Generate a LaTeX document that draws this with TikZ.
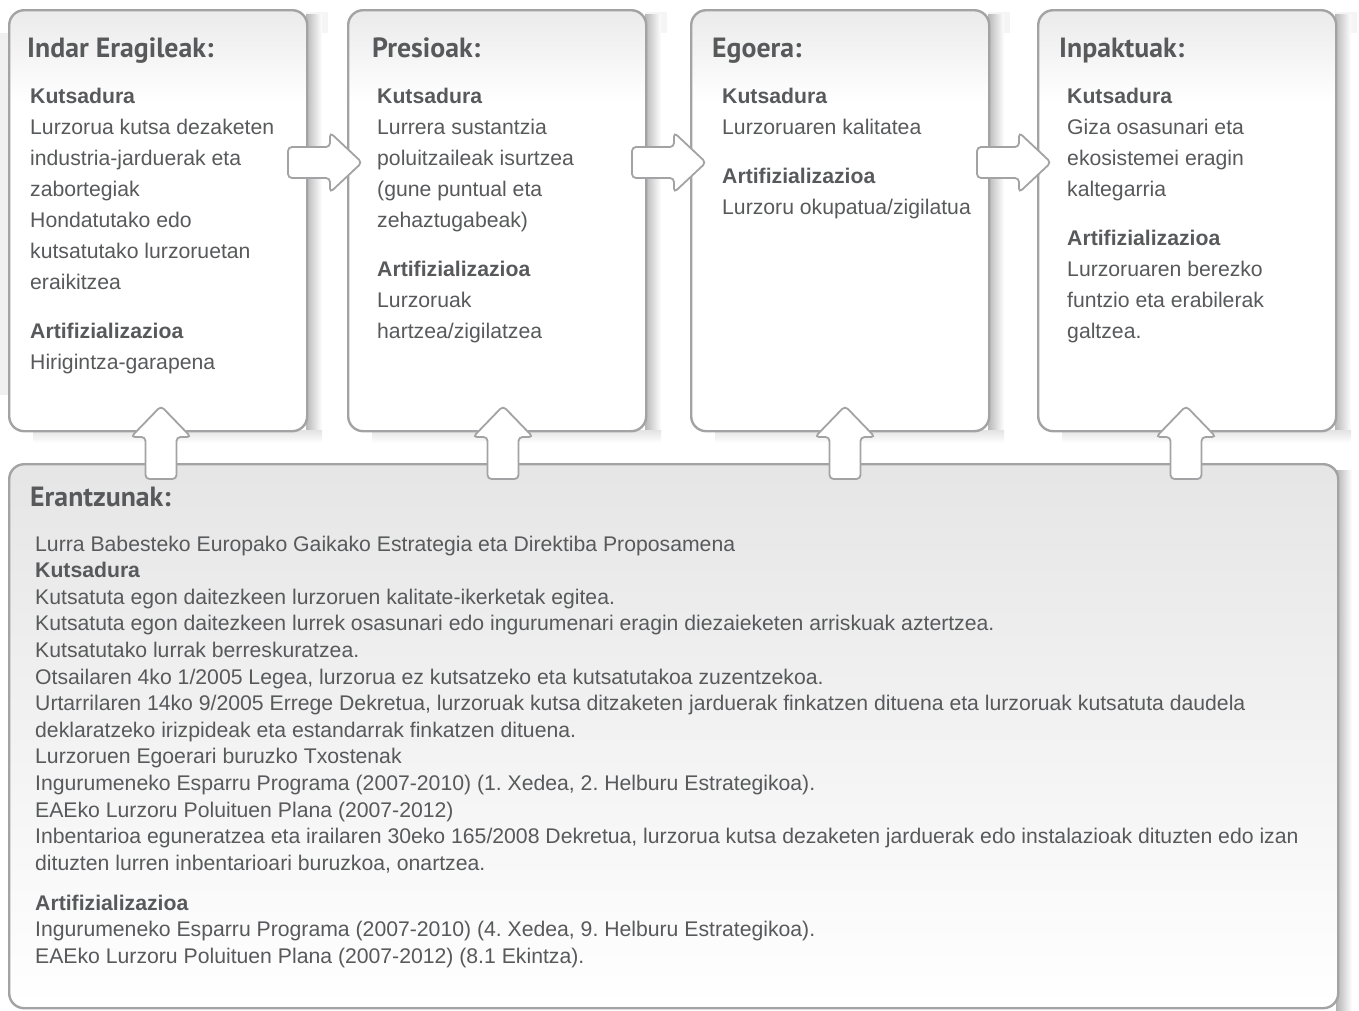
\documentclass[tikz,border=0pt]{standalone}
\usepackage{fontspec}
\setmainfont{Liberation Sans}
\newfontfamily\headfont{PT Sans}
\frenchspacing
\pgfdeclareverticalshading{boxshade}{100bp}{color(0bp)=(white); color(25bp)=(white); color(64bp)=(white); color(75bp)=(black!8); color(100bp)=(black!8)}
\definecolor{txt}{HTML}{58595B}
\definecolor{edge}{HTML}{A3A3A5}
\tikzset{
  panel/.style={draw=edge, line width=2.4pt, rounded corners=15pt, shade, shading=boxshade, anchor=north west, inner sep=0pt, minimum width=298pt, minimum height=421pt},
  widepanel/.style={draw=edge, line width=2.4pt, rounded corners=15pt, top color=black!10, bottom color=white, anchor=north west, inner sep=0pt, minimum width=1329pt, minimum height=544pt},
  head/.style={font=\headfont\bfseries\fontsize{27.8}{32}\selectfont, text=txt, inner sep=0pt, anchor=base west},
  body/.style={font=\fontsize{21.2}{31}\selectfont, text=txt, inner sep=0pt, align=left, anchor=base west},
  smallbody/.style={font=\fontsize{21.2}{26.6}\selectfont, text=txt, inner sep=0pt, align=left, anchor=base west},
  arrowbox/.style={draw=edge, fill=white, line width=1.8pt, rounded corners=4pt},
  rblock/.pic={\draw[arrowbox] (0,-15.5) -- (42,-15.5) -- (42,-30) -- (74,0) -- (42,30) -- (42,15.5) -- (0,15.5) -- cycle;},
  ublock/.pic={\draw[arrowbox] (-15.5,73) -- (-15.5,31) -- (-30,31) -- (0,0) -- (30,31) -- (15.5,31) -- (15.5,73) -- cycle;}
}
\begin{document}
\begin{tikzpicture}[x=1pt,y=-1pt]
\useasboundingbox (0,0) rectangle (1359,1010);
% background hints and shadows
\fill[black!6] (0,33) rectangle (8,395);
\foreach \r in {306,645,988,1335}{
  \fill[black!4] (\r,12) rectangle (\r+22,33);
  \shade[left color=black!28, right color=white] (\r,14) rectangle (\r+16,442);
}
\foreach \l/\r in {8/306,347/645,690/988,1037/1335}{
  \shade[top color=black!11, bottom color=white] (\l+25,430) rectangle (\r+16,443);
}
\shade[left color=black!30, right color=white] (1336,470) rectangle (1352,1010);
% panels
\node[panel] (b1) at (8,9) {};
\node[panel] (b2) at (347,9) {};
\node[panel] (b3) at (690,9) {};
\node[panel] (b4) at (1037,9) {};
\node[widepanel] (b5) at (8,463) {};
% headings
\node[head] (h1) at (27,57) {Indar Eragileak:};
\node[head] (h2) at (372,57) {Presioak:};
\node[head] (h3) at (712,57) {Egoera:};
\node[head] (h4) at (1059,57) {Inpaktuak:};
\node[head] (h5) at (30,506) {Erantzunak:};
% texts (anchored at the baseline of their last line)
\node[body] (t1) at (30,369) {\textbf{Kutsadura}\\Lurzorua kutsa dezaketen\\industria-jarduerak eta\\zabortegiak\\Hondatutako edo\\kutsatutako lurzoruetan\\eraikitzea\\[18pt]\textbf{Artifizializazioa}\\Hirigintza-garapena};
\node[body] (t2) at (377,338) {\textbf{Kutsadura}\\Lurrera sustantzia\\poluitzaileak isurtzea\\(gune puntual eta\\zehaztugabeak)\\[18pt]\textbf{Artifizializazioa}\\Lurzoruak\\hartzea/zigilatzea};
\node[body] (t3) at (722,214) {\textbf{Kutsadura}\\Lurzoruaren kalitatea\\[18pt]\textbf{Artifizializazioa}\\Lurzoru okupatua/zigilatua};
\node[body] (t4) at (1067,338) {\textbf{Kutsadura}\\Giza osasunari eta\\ekosistemei eragin\\kaltegarria\\[18pt]\textbf{Artifizializazioa}\\Lurzoruaren berezko\\funtzio eta erabilerak\\galtzea.};
\node[smallbody] (t5) at (35,963.4) {Lurra Babesteko Europako Gaikako Estrategia eta Direktiba Proposamena\\
\textbf{Kutsadura}\\
Kutsatuta egon daitezkeen lurzoruen kalitate-ikerketak egitea.\\
Kutsatuta egon daitezkeen lurrek osasunari edo ingurumenari eragin diezaieketen arriskuak aztertzea.\\
Kutsatutako lurrak berreskuratzea.\\
Otsailaren 4ko 1/2005 Legea, lurzorua ez kutsatzeko eta kutsatutakoa zuzentzekoa.\\
Urtarrilaren 14ko 9/2005 Errege Dekretua, lurzoruak kutsa ditzaketen jarduerak finkatzen dituena eta lurzoruak kutsatuta daudela\\
deklaratzeko irizpideak eta estandarrak finkatzen dituena.\\
Lurzoruen Egoerari buruzko Txostenak\\
Ingurumeneko Esparru Programa (2007-2010) (1. Xedea, 2. Helburu Estrategikoa).\\
EAEko Lurzoru Poluituen Plana (2007-2012)\\
Inbentarioa eguneratzea eta irailaren 30eko 165/2008 Dekretua, lurzorua kutsa dezaketen jarduerak edo instalazioak dituzten edo izan\\
dituzten lurren inbentarioari buruzkoa, onartzea.\\[13.4pt]
\textbf{Artifizializazioa}\\
Ingurumeneko Esparru Programa (2007-2010) (4. Xedea, 9. Helburu Estrategikoa).\\
EAEko Lurzoru Poluituen Plana (2007-2012) (8.1 Ekintza).};
% block arrows
\pic at (288,162.5) {rblock};
\pic at (632,162.5) {rblock};
\pic at (977,162.5) {rblock};
\pic at (161,406) {ublock};
\pic at (503,406) {ublock};
\pic at (845,406) {ublock};
\pic at (1186,406) {ublock};
\end{tikzpicture}
\end{document}
